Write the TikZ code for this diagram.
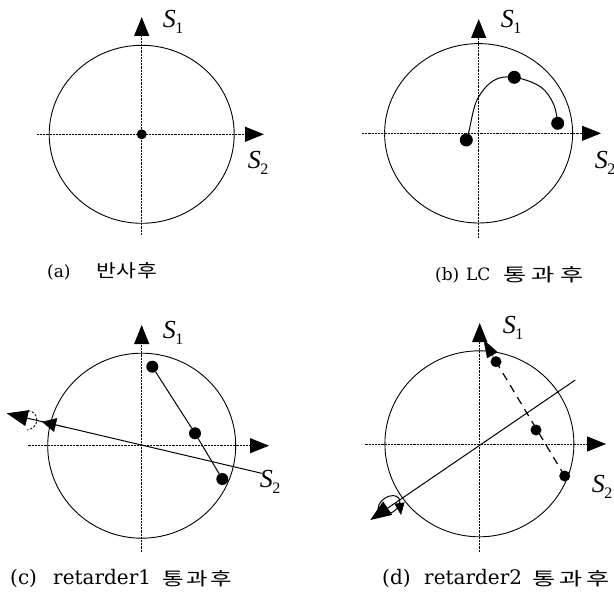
\documentclass[tikz,border=0pt]{standalone}
\usepackage{fontspec}
\usepackage{graphicx}
\setmainfont{DejaVu Serif}
\newfontfamily\kr{Noto Sans CJK KR}
\newfontfamily\tms{Liberation Serif}
\usetikzlibrary{arrows.meta}
\newcommand\Slab[1]{\textit{S}\kern-0.5pt\raisebox{-6pt}{\fontsize{16}{16}\selectfont #1}}
\newcommand\Kor[3]{{\kr\fontsize{18}{18}\selectfont\scalebox{#1}[1]{#3}}}
\tikzset{
  axis/.style={line width=0.8pt, dash pattern=on 2.2pt off 1pt, -{Triangle[length=19pt,width=15pt]}},
  ring/.style={line width=0.9pt},
  dotn/.style={circle, fill=black, inner sep=0pt, minimum size=12pt},
  lab/.style={font=\tms\fontsize{26}{26}\selectfont, inner sep=0pt},
  capS/.style={anchor=base west, inner sep=0pt, font=\fontsize{17}{17}\selectfont},
  capL/.style={anchor=base west, inner sep=0pt, font=\fontsize{20}{20}\selectfont},
  big/.style={-{Triangle[length=21pt,width=16pt]}},
  thin/.style={line width=1pt},
}
\begin{document}
\begin{tikzpicture}[x=1pt,y=-1pt]
\useasboundingbox (0,0) rectangle (614,599);

% ---------- (a)
\coordinate (Ac) at (141.7,134.3);
\draw[ring] (Ac) ellipse [x radius=92.5pt, y radius=89pt];
\coordinate (Ab) at (141.7,235); \coordinate (At) at (141.7,17);
\coordinate (Al) at (36.7,134.3); \coordinate (Ar) at (264,134.3);
\draw[axis] (Ab) -- (At);
\draw[axis] (Al) -- (Ar);
\node[dotn, minimum size=10pt] (A0) at (Ac) {};
\node[lab] (AS1) at (173,22) {\Slab{1}};
\node[lab] (AS2) at (258,163) {\Slab{2}};
\node[capS] (Acap1) at (47,277) {(a)};
\node[capS] (Acap2) at (96,278) {\Kor{1.2}{}{반\hspace{0.5pt}사\hspace{0.5pt}후}};

% ---------- (b)
\coordinate (Bc) at (478.6,133.3);
\draw[ring] (Bc) ellipse [x radius=94pt, y radius=89.7pt];
\coordinate (Bb) at (478.7,238); \coordinate (Bt) at (478.7,19);
\coordinate (Bl) at (362,133.3); \coordinate (Br) at (601,133.3);
\draw[axis] (Bb) -- (Bt);
\draw[axis] (Bl) -- (Br);
\node[dotn, minimum size=13pt] (B1) at (466.3,140) {};
\node[dotn, minimum size=13pt] (B2) at (514.3,77.3) {};
\node[dotn, minimum size=13pt] (B3) at (557.7,123.3) {};
\draw[thin] plot[smooth, tension=0.6] coordinates {(B1.center) (469,131) (477,100) (493.7,80.5) (B2.center) (540.3,86.7) (553.5,104) (B3.center)};
\node[lab] (BS1) at (511,22) {\Slab{1}};
\node[lab] (BS2) at (605,163) {\Slab{2}};
\node[capS] (Bcap1) at (435,280) {(b)};
\node[capS] (Bcap2) at (466,280) {LC};
\node[capS] (Bcap3) at (503,281) {\Kor{1.4}{}{통\hspace{4pt}과\hspace{4pt}후}};

% ---------- (c)
\coordinate (Cc) at (141.7,445.7);
\draw[ring] (Cc) ellipse [x radius=94pt, y radius=92.5pt];
\coordinate (Cb) at (141.7,551.7); \coordinate (Ct) at (141.7,325);
\coordinate (Cl) at (28.3,445.7); \coordinate (Cr0) at (269,445.7);
\draw[axis] (Cb) -- (Ct);
\draw[axis] (Cl) -- (Cr0);
\coordinate (Cr) at (261.7,473.3);
\coordinate (Ctip) at (6.7,413.3);
\draw[thin, big] (Cr) -- (Ctip);
\coordinate (Ca1) at (68,428);
\coordinate (Ca2) at (42,421.8);
\draw[-{Triangle[length=14pt,width=14pt]}] (Ca1) -- (Ca2);
\draw[line width=0.8pt, dash pattern=on 2.5pt off 1.5pt] (28,410.5) .. controls (40,412) and (40,428) .. (27,430);
\node[dotn] (C1) at (152.3,366.7) {};
\node[dotn] (C2) at (195,433.3) {};
\node[dotn] (C3) at (222.3,479) {};
\draw[thin] (C1) -- (C2) -- (C3);
\node[lab] (CS1) at (173,333) {\Slab{1}};
\node[lab] (CS2) at (270,482) {\Slab{2}};
\node[capL] (Ccap1) at (10,584) {(c)};
\node[capL] (Ccap2) at (53,584) {retarder1};
\node[capL] (Ccap3) at (162,585) {\Kor{1.3}{}{통\hspace{2pt}과\hspace{2pt}후}};

% ---------- (d)
\coordinate (Dc) at (479.4,443.8);
\draw[ring] (Dc) ellipse [x radius=94.5pt, y radius=93pt];
\coordinate (Db) at (479.7,551.7); \coordinate (Dt) at (479.7,323);
\coordinate (Dl) at (365.3,444); \coordinate (Dr0) at (606,444);
\draw[axis] (Db) -- (Dt);
\draw[axis] (Dl) -- (Dr0);
\coordinate (Dr) at (575.3,380);
\coordinate (Dtip) at (370.3,520);
\draw[thin, big] (Dr) -- (Dtip);
\draw[line width=1pt, rotate around={34:(389,505)}] (389,505) ellipse [x radius=12pt, y radius=8pt];
\coordinate (Dl1) at (399,499); \coordinate (Dl2) at (401,515);
\draw[-{Triangle[length=12pt,width=10pt]}] (Dl1) -- (Dl2);
\node[dotn, minimum size=11pt] (D1) at (496,361.7) {};
\node[dotn, minimum size=11pt] (D2) at (536,430) {};
\node[dotn, minimum size=11pt] (D3) at (564.7,476) {};
\draw[line width=1.2pt, dash pattern=on 8pt off 6pt] (D3.center) -- (D1.center);
\coordinate (Dtop) at (483.5,339.5);
\draw[-{Triangle[length=18pt,width=12pt]}] (D1.center) -- (Dtop);
\node[lab] (DS1) at (513,328) {\Slab{1}};
\node[lab] (DS2) at (602,487) {\Slab{2}};
\node[capL] (Dcap1) at (382,584) {(d)};
\node[capL] (Dcap2) at (424,584) {retarder2};
\node[capL] (Dcap3) at (532,585) {\Kor{1.4}{}{통\hspace{3pt}과\hspace{3pt}후}};
\end{tikzpicture}
\end{document}
